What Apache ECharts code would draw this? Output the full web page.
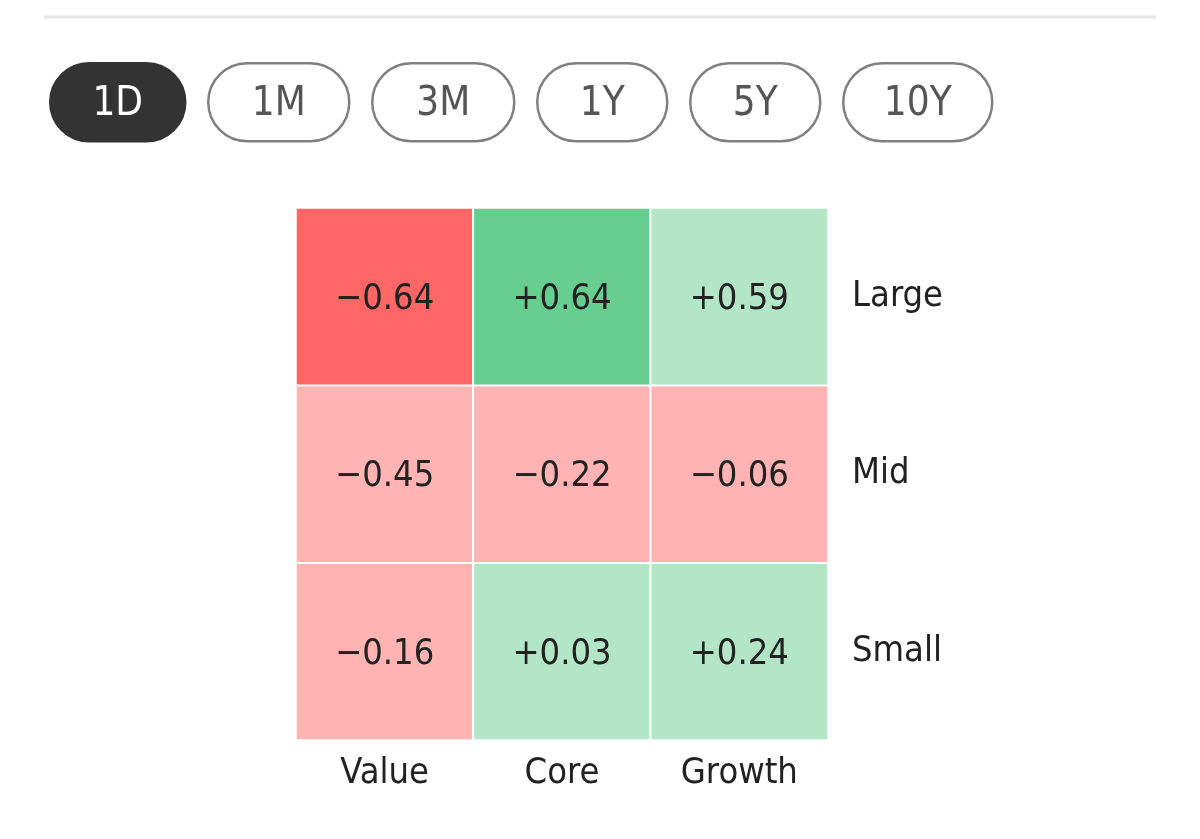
<!DOCTYPE html>
<html>
<head>
<meta charset="utf-8">
<script src="https://cdn.jsdelivr.net/npm/echarts@6/dist/echarts.min.js"></script>
<style>
  html, body { margin: 0; padding: 0; background: #fff; }
  #main { width: 1200px; height: 839px; }
</style>
</head>
<body>
<div id="main"></div>
<script>
// 数据
const periods = ["1D", "1M", "3M", "1Y", "5Y", "10Y"];
const activePeriod = "1D";
const styles = ["Value", "Core", "Growth"]; // x 轴
const sizes = ["Small", "Mid", "Large"]; // y 轴（从下到上）
const largeRow = [-0.64, 0.64, 0.59];
const midRow = [-0.45, -0.22, -0.06];
const smallRow = [-0.16, 0.03, 0.24];

const FONT = "'Liberation Sans Narrow', 'DejaVu Sans Condensed', 'Roboto Condensed', sans-serif";

// 按钮布局 [x, width]
const btnLayout = [[49, 135], [207, 141], [371, 142], [536, 130], [689, 130], [842, 149]];

// 组装热力图数据 [x, y, value]
const heatData = [];
[smallRow, midRow, largeRow].forEach((row, y) => {
  row.forEach((v, x) => heatData.push([x, y, v]));
});

const fmt = (v) => (v < 0 ? "\u2212" : "+") + Math.abs(v).toFixed(2);

const buttons = periods.map((p, i) => {
  const active = p === activePeriod;
  return {
    type: "rect",
    left: btnLayout[i][0],
    top: 62,
    shape: { width: btnLayout[i][1], height: 78, r: 39 },
    style: {
      fill: active ? "#333333" : "#ffffff",
      stroke: active ? "#333333" : "#808080",
      lineWidth: 2.5,
    },
    textContent: {
      style: {
        text: p,
        fill: active ? "#ffffff" : "#555555",
        fontSize: 40,
        fontFamily: FONT,
      },
    },
    textConfig: { position: "inside", offset: [0, 2] },
  };
});

const chart = echarts.init(document.getElementById("main"));
chart.setOption({
  animation: false,
  graphic: [
    {
      type: "line",
      shape: { x1: 44, y1: 17, x2: 1156, y2: 17 },
      style: { stroke: "#e6e6e6", lineWidth: 3 },
    },
    ...buttons,
  ],
  grid: { left: 296, top: 208, width: 532, height: 532 },
  xAxis: {
    type: "category",
    data: styles,
    axisLine: { show: false },
    axisTick: { show: false },
    splitArea: { show: false },
    axisLabel: { color: "#222", fontSize: 36, fontFamily: FONT, margin: 16 },
  },
  yAxis: {
    type: "category",
    position: "right",
    data: sizes,
    axisLine: { show: false },
    axisTick: { show: false },
    splitArea: { show: false },
    axisLabel: { color: "#222", fontSize: 36, fontFamily: FONT, margin: 24, padding: [6, 0, 0, 0] },
  },
  visualMap: {
    show: false,
    type: "piecewise",
    dimension: 2,
    pieces: [
      { lt: -0.5, color: "#ff6666" },
      { gte: -0.5, lt: 0, color: "#ffb3b3" },
      { gte: 0, lt: 0.6, color: "#b3e6c7" },
      { gte: 0.6, color: "#66cf8f" },
    ],
  },
  series: [
    {
      type: "heatmap",
      data: heatData,
      itemStyle: { borderColor: "#fff", borderWidth: 2 },
      label: {
        show: true,
        color: "#222",
        fontSize: 36,
        fontFamily: FONT,
        offset: [0, 3],
        formatter: (p) => fmt(p.value[2]),
      },
      emphasis: { disabled: true },
    },
  ],
});
</script>
</body>
</html>
